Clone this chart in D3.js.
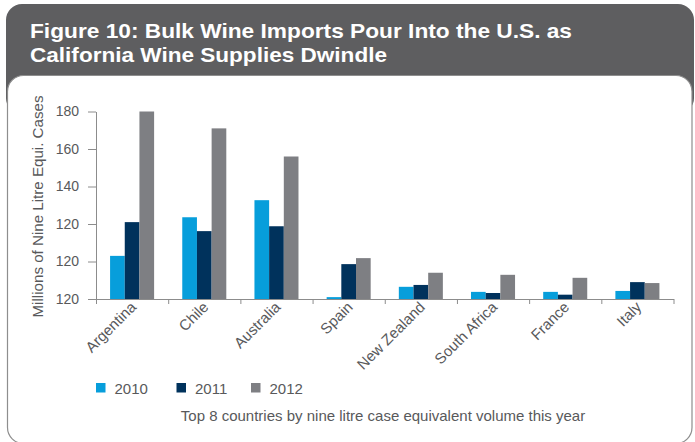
<!DOCTYPE html>
<html><head><meta charset="utf-8">
<script src="https://cdn.jsdelivr.net/npm/d3@7"></script>
<style>
body{margin:0;background:#fff}
svg{display:block}
text{font-family:"Liberation Sans",Arial,Helvetica,sans-serif}
</style>
</head><body><svg id="chart" width="695" height="442"></svg>
<script>
// Bulk wine imports by country, millions of nine-litre case equivalents
const titleLines = ["Figure 10: Bulk Wine Imports Pour Into the U.S. as", "California Wine Supplies Dwindle"];
const countries = ["Argentina", "Chile", "Australia", "Spain", "New Zealand", "South Africa", "France", "Italy"];
const years = ["2010", "2011", "2012"];
const values2010 = [103, 123.6, 132.7, 81, 86.5, 83.8, 83.8, 84.3];
const values2011 = [121, 116.2, 118.8, 98.6, 87.5, 83.2, 82.3, 89];
const values2012 = [180, 171, 156, 101.8, 94, 92.9, 91.3, 88.5];
const tickValues = [80, 100, 120, 140, 160, 180];
const tickLabels = ["120", "120", "120", "140", "160", "180"];
const yTitle = "Millions of Nine Litre Equi. Cases";
const caption = "Top 8 countries by nine litre case equivalent volume this year";

const colors = ["#079edb", "#00325c", "#7e7f83"];
const textColor = "#58595b";
const axisColor = "#8c8c8c";

const series = [values2010, values2011, values2012];
const svg = d3.select("#chart");

// Frame: dark title band with a rounded white panel below it
svg.append("rect").attr("x", 6).attr("y", 4).attr("width", 688).attr("height", 110)
  .attr("rx", 16).attr("fill", "#5e5e60");
svg.append("rect").attr("x", 7.5).attr("y", 75.5).attr("width", 684.5).attr("height", 368)
  .attr("rx", 16).attr("fill", "#fff").attr("stroke", "#8e8e8e").attr("stroke-width", 1.2);

// Title
const titleWidths = [542, 357];
titleLines.forEach((t, i) => {
  svg.append("text").attr("x", 30).attr("y", 38 + i * 24)
    .attr("fill", "#fff").attr("font-size", 21).attr("font-weight", "bold")
    .attr("textLength", titleWidths[i]).attr("lengthAdjust", "spacingAndGlyphs")
    .text(t);
});

// Scales
const y = d3.scaleLinear().domain([80, 180]).range([299, 111.5]);
const x0 = d3.scaleBand().domain(countries).range([96, 673.5]).paddingInner(0.39).paddingOuter(0.195);
const x1 = d3.scaleBand().domain(years).range([0, x0.bandwidth()]);
const xb = d3.scaleLinear().domain([0, countries.length]).range([96, 673.5]);

// Bars
const g = svg.append("g");
countries.forEach((c, ci) => {
  years.forEach((yr, yi) => {
    const v = series[yi][ci];
    g.append("rect")
      .attr("x", x0(c) + x1(yr))
      .attr("y", y(v))
      .attr("width", x1.bandwidth())
      .attr("height", y(80) - y(v))
      .attr("fill", colors[yi]);
  });
});

// Y axis
const yAxis = svg.append("g").attr("transform", "translate(96,0)")
  .call(d3.axisLeft(y).tickValues(tickValues).tickFormat((d, i) => tickLabels[i])
    .tickSize(8).tickSizeOuter(0).tickPadding(9));
yAxis.select(".domain").attr("stroke", axisColor);
yAxis.selectAll(".tick line").attr("stroke", axisColor);
yAxis.selectAll(".tick text").attr("fill", textColor).attr("font-size", 14)
  .style("font-family", '"Liberation Sans",Arial,sans-serif');

// X axis with ticks at category boundaries
const xAxis = svg.append("g").attr("transform", "translate(0,299)")
  .call(d3.axisBottom(xb).tickValues(d3.range(countries.length + 1)).tickFormat("")
    .tickSize(5).tickSizeOuter(0));
xAxis.select(".domain").attr("stroke", axisColor);
xAxis.selectAll(".tick line").attr("stroke", axisColor);

// Category labels, rotated
svg.append("g").selectAll("text").data(countries).join("text")
  .attr("transform", d => `translate(${x0(d) + x0.bandwidth() / 2 + 5},308) rotate(-45)`)
  .attr("text-anchor", "end")
  .attr("fill", textColor).attr("font-size", 15)
  .text(d => d);

// Y axis title
svg.append("text")
  .attr("transform", "translate(43,206.5) rotate(-90)")
  .attr("text-anchor", "middle")
  .attr("fill", textColor).attr("font-size", 14.5)
  .attr("textLength", 222).attr("lengthAdjust", "spacingAndGlyphs")
  .text(yTitle);

// Legend
const legendX = [96, 176.5, 251];
years.forEach((yr, i) => {
  svg.append("rect").attr("x", legendX[i]).attr("y", 383).attr("width", 9.5).attr("height", 9.5)
    .attr("fill", colors[i]);
  svg.append("text").attr("x", legendX[i] + 18.5).attr("y", 393.5)
    .attr("fill", textColor).attr("font-size", 15).text(yr);
});

// Caption
svg.append("text").attr("x", 383).attr("y", 421).attr("text-anchor", "middle")
  .attr("fill", textColor).attr("font-size", 15).text(caption);
</script>
</body></html>
